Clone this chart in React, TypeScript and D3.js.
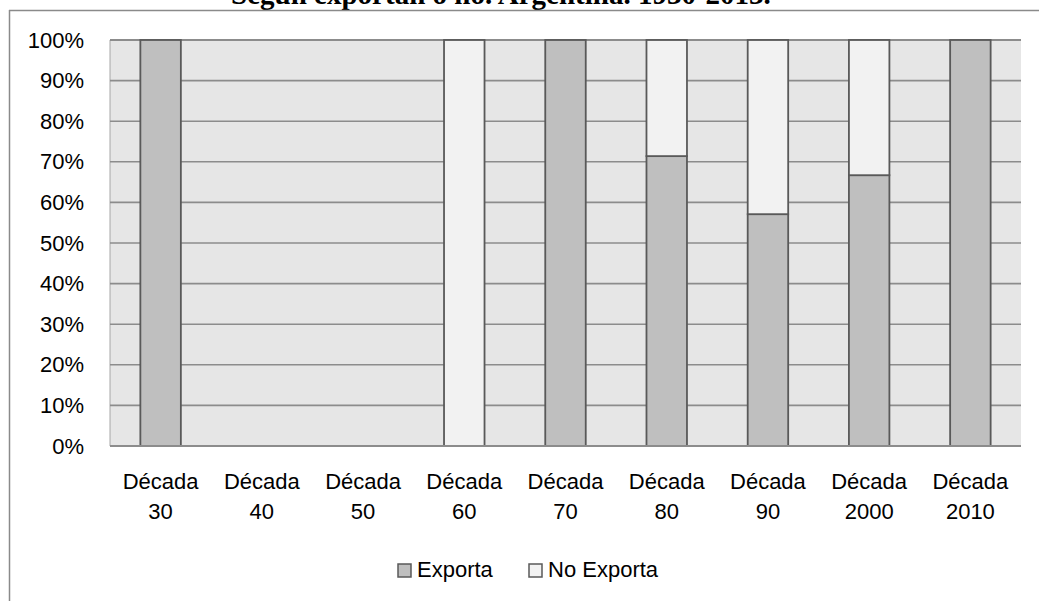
import React from 'react';
import * as d3 from 'd3';

const title = 'Según exportan o no. Argentina. 1930-2013.';
const decades = ['30', '40', '50', '60', '70', '80', '90', '2000', '2010'];
const exporta = [100, 0, 0, 0, 100, 71.4, 57.1, 66.7, 100];
const noExporta = [0, 0, 0, 100, 0, 28.6, 42.9, 33.3, 0];
const seriesNames = ['Exporta', 'No Exporta'];
const yTicks = [0, 10, 20, 30, 40, 50, 60, 70, 80, 90, 100];

const colors: Record<string, string> = { 'Exporta': '#bfbfbf', 'No Exporta': '#f2f2f2' };
const labelFont = '"Liberation Sans", Arial, sans-serif';

const App: React.FC = () => {
    const width = 1039;
    const height = 601;
    const plot = { left: 110, right: 1021, top: 40, bottom: 446 };

    const xScale = d3.scaleBand<string>()
        .domain(decades)
        .range([plot.left, plot.right])
        .paddingInner(0.6)
        .paddingOuter(0.3);

    const yScale = d3.scaleLinear()
        .domain([0, 100])
        .range([plot.bottom, plot.top]);

    const rows = decades.map((d, i) => ({ decade: d, 'Exporta': exporta[i], 'No Exporta': noExporta[i] }));
    const stacked = d3.stack<any>().keys(seriesNames)(rows);

    // legend positions
    const legend = [
        { name: 'Exporta', x: 398 },
        { name: 'No Exporta', x: 529 },
    ];

    return (
        <svg width={width} height={height} style={{ position: 'absolute', left: 0, top: 0, background: '#fff' }}>
            {/* title, partly cut at the top */}
            <text x={501} y={4} textAnchor="middle" fontFamily='"Liberation Serif", "Times New Roman", serif'
                fontWeight="bold" fontSize={29} fill="#000">{title}</text>

            {/* chart frame */}
            <line x1={9} y1={10.5} x2={width} y2={10.5} stroke="#8a8a8a" strokeWidth={1.5} />
            <line x1={9.5} y1={10} x2={9.5} y2={height} stroke="#8a8a8a" strokeWidth={1.5} />

            {/* plot area */}
            <rect x={plot.left} y={plot.top} width={plot.right - plot.left} height={plot.bottom - plot.top} fill="#e6e6e6" />
            <line x1={plot.left} y1={plot.top} x2={plot.left} y2={plot.bottom} stroke="#a6a6a6" strokeWidth={1} />

            {/* gridlines */}
            {yTicks.map(t => (
                <line key={t} x1={plot.left} x2={plot.right} y1={yScale(t)} y2={yScale(t)}
                    stroke="#8c8c8c" strokeWidth={t === 0 || t === 100 ? 2 : 1.6} />
            ))}

            {/* bars */}
            {stacked.map(layer => (
                <g key={layer.key}>
                    {layer.map((d, i) => {
                        const h = yScale(d[0]) - yScale(d[1]);
                        if (h <= 0) return null;
                        return (
                            <rect key={i} x={xScale(decades[i])!} y={yScale(d[1])} width={xScale.bandwidth()} height={h}
                                fill={colors[layer.key]} stroke="#595959" strokeWidth={1.8} />
                        );
                    })}
                </g>
            ))}
            <line x1={plot.left} x2={plot.right} y1={plot.bottom} y2={plot.bottom} stroke="#8c8c8c" strokeWidth={2} />

            {/* y axis labels */}
            {yTicks.map(t => (
                <text key={t} x={84} y={yScale(t) + 7.5} textAnchor="end" fontFamily={labelFont} fontSize={22} fill="#000">
                    {t}%
                </text>
            ))}

            {/* x axis labels */}
            {decades.map(d => {
                const cx = xScale(d)! + xScale.bandwidth() / 2;
                return (
                    <text key={d} x={cx} textAnchor="middle" fontFamily={labelFont} fontSize={22} fill="#000">
                        <tspan x={cx} y={489}>Década</tspan>
                        <tspan x={cx} y={519}>{d}</tspan>
                    </text>
                );
            })}

            {/* legend */}
            {legend.map(l => (
                <g key={l.name}>
                    <rect x={l.x} y={564} width={13} height={13} fill={colors[l.name]} stroke="#595959" strokeWidth={1.5} />
                    <text x={l.x + 19} y={577} fontFamily={labelFont} fontSize={22} fill="#000">{l.name}</text>
                </g>
            ))}
        </svg>
    );
};

export default App;
